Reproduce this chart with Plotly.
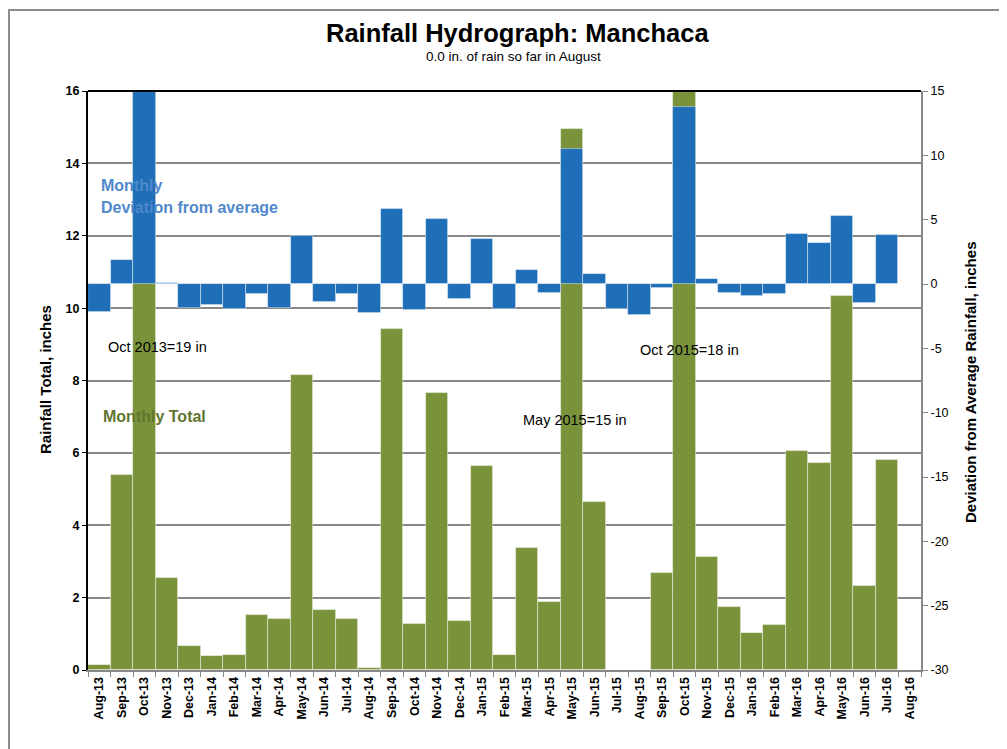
import plotly.graph_objects as go

months = ["Aug-13", "Sep-13", "Oct-13", "Nov-13", "Dec-13", "Jan-14", "Feb-14", "Mar-14",
          "Apr-14", "May-14", "Jun-14", "Jul-14", "Aug-14", "Sep-14", "Oct-14", "Nov-14",
          "Dec-14", "Jan-15", "Feb-15", "Mar-15", "Apr-15", "May-15", "Jun-15", "Jul-15",
          "Aug-15", "Sep-15", "Oct-15", "Nov-15", "Dec-15", "Jan-16", "Feb-16", "Mar-16",
          "Apr-16", "May-16", "Jun-16", "Jul-16", "Aug-16"]

monthly_total = [0.13, 5.4, 19.0, 2.53, 0.67, 0.39, 0.41, 1.51,
                 1.4, 8.15, 1.66, 1.41, 0.06, 9.42, 1.26, 7.65,
                 1.35, 5.64, 0.41, 3.36, 1.87, 14.95, 4.63, 0.0,
                 0.0, 2.69, 18.0, 3.12, 1.73, 1.02, 1.23, 6.04,
                 5.72, 10.33, 2.32, 5.79, 0.0]

deviation = [-2.15, 1.84, 15.6, 0.05, -1.9, -1.66, -1.97, -0.78,
             -1.9, 3.73, -1.37, -0.78, -2.23, 5.83, -2.02, 5.05,
             -1.17, 3.5, -1.97, 1.06, -0.67, 10.49, 0.78, -1.94,
             -2.38, -0.34, 13.73, 0.42, -0.73, -0.91, -0.78, 3.88,
             3.18, 5.26, -1.5, 3.8, 0.0]

left_ticks = [0, 2, 4, 6, 8, 10, 12, 14, 16]
right_ticks = [-30, -25, -20, -15, -10, -5, 0, 5, 10, 15]
right_labels = ["-30", "-25", "-20", "-15", "-10", "-5", "0", "5", "10", "15"]

FONT = "Liberation Sans, Arial, sans-serif"
BLUE = "#1F6FB8"
GREEN = "#7A933B"

# page offset of the figure (body margin) and plot-area geometry in page px
OFF = 8
W, H = 1007 - OFF, 749 - OFF
L, R, T, B = 88, 921, 91, 670
def px(x):
    return (x - L) / (R - L)
def py(y):
    return (B - y) / (B - T)

fig = go.Figure()
fig.add_trace(go.Bar(x=months, y=monthly_total, yaxis="y", width=1,
                     marker=dict(color=GREEN, line=dict(color="rgba(255,255,255,0.55)", width=0.8)),
                     name="Monthly Total", showlegend=False))
fig.add_trace(go.Bar(x=months, y=deviation, yaxis="y2", width=1,
                     marker=dict(color=BLUE, line=dict(color="rgba(255,255,255,0.55)", width=0.8)),
                     name="Monthly Deviation from average", showlegend=False))

fig.update_layout(
    width=W, height=H,
    margin=dict(l=L - OFF, r=W - (R - OFF), t=T - OFF, b=H - (B - OFF), autoexpand=False),
    paper_bgcolor="white", plot_bgcolor="white",
    barmode="overlay", bargap=0,
    font=dict(family=FONT, color="black"),
    xaxis=dict(type="category", categoryorder="array", categoryarray=months,
               tickangle=-90, tickfont=dict(size=12.5, weight="bold", family=FONT),
               ticks="outside", tickson="boundaries", ticklen=5, tickcolor="#888888",
               showline=True, linecolor="#888888", linewidth=2, showgrid=False,
               range=[-0.5, len(months) - 0.5], automargin=False),
    yaxis=dict(range=[0, 16], tickvals=left_ticks, tickfont=dict(size=12.5, weight="bold", family=FONT),
               showgrid=True, gridcolor="#888888", gridwidth=2,
               showline=True, linecolor="black", linewidth=2,
               ticks="outside", ticklen=4, tickcolor="black", zeroline=False, automargin=False),
    yaxis2=dict(range=[-30, 15], tickvals=right_ticks, ticktext=right_labels,
                overlaying="y", side="right",
                tickfont=dict(size=12.5, family=FONT), showgrid=False, zeroline=False,
                showline=True, linecolor="#888888", linewidth=2,
                ticks="outside", ticklen=5, tickcolor="#888888", automargin=False),
)

annotations = [
    dict(text="<b>Rainfall Hydrograph: Manchaca</b>", x=px(517), y=py(33), font=dict(size=25.5),
         xanchor="center", yanchor="middle"),
    dict(text="0.0 in. of rain so far in August", x=px(513), y=py(57), font=dict(size=13.5),
         xanchor="center", yanchor="middle"),
    dict(text="<b>Rainfall Total, inches</b>", x=px(45), y=py(380), textangle=-90, font=dict(size=15),
         xanchor="center", yanchor="middle"),
    dict(text="<b>Deviation from Average Rainfall, inches</b>", x=px(970), y=py(383), textangle=-90,
         font=dict(size=15), xanchor="center", yanchor="middle"),
    dict(text="<b>Monthly</b>", x=px(99), y=py(185), font=dict(size=16, color="#4F88CB"),
         xanchor="left", yanchor="middle"),
    dict(text="<b>Deviation from average</b>", x=px(99), y=py(207), font=dict(size=16, color="#4F88CB"),
         xanchor="left", yanchor="middle"),
    dict(text="<b>Monthly Total</b>", x=px(101), y=py(416), font=dict(size=16, color="#5F7630"),
         xanchor="left", yanchor="middle"),
    dict(text="Oct 2013=19 in", x=px(106), y=py(347), font=dict(size=14.5),
         xanchor="left", yanchor="middle"),
    dict(text="May 2015=15 in", x=px(521), y=py(420), font=dict(size=14.5),
         xanchor="left", yanchor="middle"),
    dict(text="Oct 2015=18 in", x=px(638), y=py(350), font=dict(size=14.5),
         xanchor="left", yanchor="middle"),
]
for a in annotations:
    a.update(xref="paper", yref="paper", showarrow=False)
    a["font"].setdefault("family", FONT)
    a["font"].setdefault("color", "black")
fig.update_layout(annotations=annotations)

fig.update_layout(shapes=[
    dict(type="line", xref="paper", yref="paper", x0=0, x1=1, y0=1, y1=1,
         line=dict(color="black", width=2)),
    dict(type="rect", xref="paper", yref="paper", x0=px(OFF + 1), x1=px(1015), y0=py(760), y1=py(10),
         line=dict(color="#8C8C8C", width=2), fillcolor="rgba(0,0,0,0)", layer="above"),
])

fig.write_html("out.html")
